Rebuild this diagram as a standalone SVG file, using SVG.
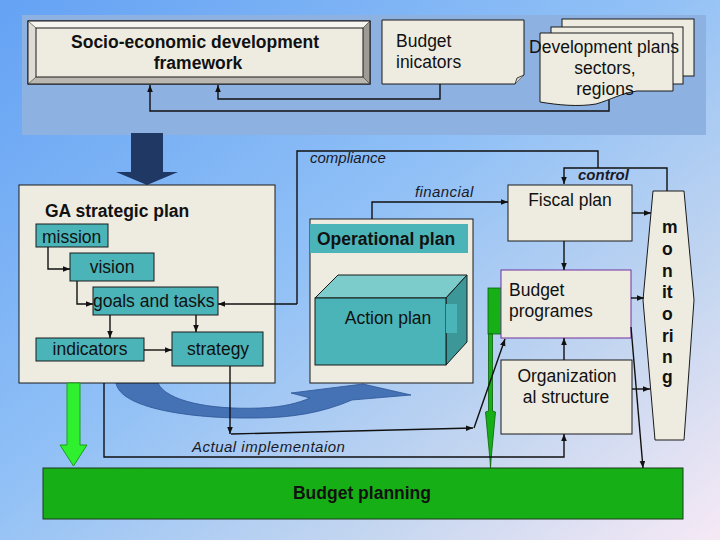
<svg xmlns="http://www.w3.org/2000/svg" width="720" height="540" viewBox="0 0 720 540">
<defs>
<linearGradient id="bg" x1="0" y1="0" x2="1" y2="1">
<stop offset="0" stop-color="#64a2f4"/>
<stop offset="0.45" stop-color="#90c0f6"/>
<stop offset="0.75" stop-color="#c4d6f0"/>
<stop offset="1" stop-color="#f6e9f5"/>
</linearGradient>
<marker id="a" viewBox="0 0 10 10" refX="10" refY="5" markerWidth="7" markerHeight="7" markerUnits="userSpaceOnUse" orient="auto">
<path d="M0,1 L10,5 L0,9 Z" fill="#111"/>
</marker>
<style>
.n{fill:#eeece1;stroke:#1a1a1a;stroke-width:1}
.t{fill:#4bb4b8;stroke:#1a1a1a;stroke-width:1}
.c{fill:none;stroke:#111;stroke-width:1.4}
.tx{font-family:"Liberation Sans",Arial,sans-serif;font-size:17.5px;fill:#111}
.b{font-weight:bold}
.i{font-style:italic;font-size:15px;fill:#1a1a2a}
.m{text-anchor:middle}
</style>
</defs>
<rect width="720" height="540" fill="url(#bg)"/>
<rect x="22" y="15" width="684" height="120" fill="#8db1e0"/>

<g id="socio">
<rect x="28" y="21" width="342" height="63" fill="#eeece1" stroke="#1a1a1a"/>
<polygon points="28,21 370,21 363,28 36,28" fill="#f7f5ef"/>
<polygon points="28,21 36,28 36,77 28,84" fill="#dedcd4"/>
<polygon points="28,84 36,77 363,77 370,84" fill="#b9b7af"/>
<polygon points="370,21 370,84 363,77 363,28" fill="#9d9b94"/>
<rect x="28" y="21" width="342" height="63" fill="none" stroke="#1a1a1a"/>
<rect x="36" y="28" width="327" height="49" class="n"/>
<line x1="28" y1="21" x2="36" y2="28" stroke="#333" stroke-width="0.6"/>
<line x1="28" y1="84" x2="36" y2="77" stroke="#333" stroke-width="0.6"/>
<line x1="370" y1="21" x2="363" y2="28" stroke="#333" stroke-width="0.6"/>
<line x1="370" y1="84" x2="363" y2="77" stroke="#333" stroke-width="0.6"/>
<text class="tx b m" x="195" y="48" font-size="18">Socio-economic development</text>
<text class="tx b m" x="198" y="69" font-size="18">framework</text>
</g>

<g id="budget-indicators">
<path d="M382,20 H524 V75 L515,84 H382 Z" class="n"/>
<path d="M515,84 L517,78 L524,75" fill="#d6d4cc" stroke="#1a1a1a" stroke-width="0.8"/>
<text class="tx" x="396" y="47">Budget</text>
<text class="tx" x="396" y="68">inicators</text>
</g>

<g id="dev-plans">
<rect x="562" y="19" width="132" height="57" class="n"/>
<rect x="551" y="27" width="132" height="57" class="n"/>
<path d="M540,33 H673 V91 L637,91 C622,93 610,100 596,104 C578,107 558,105 540,102 Z" class="n"/>
<text class="tx m" x="604" y="53">Development plans</text>
<text class="tx m" x="605" y="74">sectors,</text>
<text class="tx m" x="605" y="95">regions</text>
</g>

<g id="big-arrow">
<polygon points="131,133 163,133 163,172 178,172 147,185 116,172 131,172" fill="#1f3864"/>
</g>

<g id="curved-arrow">
<path d="M158,383 C166,401 210,410 260,408 C284,407 298,403 310,398 L291,393 L363,384 L411,395 L352,400 C322,413 290,418 255,418 C190,419 120,408 116,383 Z" fill="#4472b4" stroke="#2f5597" stroke-width="0.8"/>
</g>

<g id="ga-plan">
<rect x="19" y="185" width="256" height="198" class="n"/>
<text class="tx b" x="45" y="217">GA strategic plan</text>
</g>
<g id="mission"><rect x="36" y="224" width="72" height="23" class="t"/><text class="tx" x="42" y="243">mission</text></g>
<g id="vision"><rect x="70" y="253" width="84" height="28" class="t"/><text class="tx m" x="112" y="273">vision</text></g>
<g id="goals"><rect x="93" y="287" width="125" height="28" class="t"/><text class="tx" x="93" y="307">goals and tasks</text></g>
<g id="indicators"><rect x="36" y="338" width="108" height="23" class="t"/><text class="tx m" x="90" y="355">indicators</text></g>
<g id="strategy"><rect x="172" y="332" width="91" height="34" class="t"/><text class="tx m" x="218" y="355">strategy</text></g>

<g id="operational-plan">
<rect x="310" y="219" width="163" height="164" class="n"/>
<rect x="310" y="224" width="158" height="29" fill="#4bb4b8"/>
<text class="tx b" x="317" y="245">Operational plan</text>
</g>
<g id="action-plan">
<polygon points="315,298 338,275 467,275 446,298" fill="#7ccccc" stroke="#1a1a1a"/>
<polygon points="446,298 467,275 467,342 446,365" fill="#3c9898" stroke="#1a1a1a"/>
<rect x="315" y="298" width="131" height="67" fill="#4bb4b8" stroke="#1a1a1a"/>
<rect x="446" y="304" width="11" height="29" fill="#4bb4b8"/>
<text class="tx m" x="388" y="324">Action plan</text>
</g>

<g id="fiscal-plan">
<rect x="508" y="185" width="124" height="56" class="n"/>
<text class="tx m" x="570" y="206">Fiscal plan</text>
</g>

<g id="green-strip">
<rect x="488" y="288" width="14" height="46" fill="#16b016" stroke="#0a600a" stroke-width="0.8"/>
<path d="M488.5,334 H492.5 V411 L495.5,412 L491,460 L490.5,468 L490,460 L485.5,412 L488.5,411 Z" fill="#16b016" stroke="#0a600a" stroke-width="0.8"/>
</g>

<g id="budget-programes">
<rect x="501" y="270" width="130" height="68" fill="#eeece1" stroke="#7030a0" stroke-width="1"/>
<text class="tx" x="509" y="296">Budget</text>
<text class="tx" x="509" y="317">programes</text>
</g>

<g id="org-structure">
<rect x="501" y="360" width="131" height="74" class="n"/>
<text class="tx m" x="567" y="382">Organization</text>
<text class="tx m" x="566" y="403">al structure</text>
</g>

<g id="monitoring">
<polygon points="653,191 684,191 694,300 684,440 655,440 643,300" class="n"/>
<text class="tx b" x="662" y="233">m</text>
<text class="tx b" x="662" y="255">o</text>
<text class="tx b" x="662" y="277">n</text>
<text class="tx b" x="662" y="298">it</text>
<text class="tx b" x="662" y="320">o</text>
<text class="tx b" x="662" y="342">ri</text>
<text class="tx b" x="662" y="363">n</text>
<text class="tx b" x="662" y="383">g</text>
</g>

<g id="green-arrow">
<polygon points="67,383 80,383 80,445 87,445 73.5,466 60,445 67,445" fill="#2ef02e" stroke="#1a9e1a" stroke-width="1"/>
</g>

<g id="budget-planning">
<rect x="43" y="468" width="640" height="51" fill="#16b016" stroke="#1a3a1a" stroke-width="1"/>
<text class="tx b m" x="362" y="499" fill="#142014">Budget planning</text>
</g>

<g id="connectors">
<path class="c" d="M440,84 V99 H218 V85" marker-end="url(#a)"/>
<path class="c" d="M609,100 V111 H150 V85" marker-end="url(#a)"/>
<path class="c" d="M48,247 V269 H70" stroke-width="2" marker-end="url(#a)"/>
<path class="c" d="M77,281 V304 H93" stroke-width="1.6" marker-end="url(#a)"/>
<path class="c" d="M110,315 V338" marker-end="url(#a)"/>
<path class="c" d="M196,315 V332" marker-end="url(#a)"/>
<path class="c" d="M144,350 H172" marker-end="url(#a)"/>
<path class="c" d="M598,168 V151 H297 V304"/>
<path class="c" d="M297,304 H218" stroke-width="2.2" marker-end="url(#a)"/>
<path class="c" d="M667,191 V168 H564 V184" marker-end="url(#a)"/>
<path class="c" d="M372,219 V202 H508" marker-end="url(#a)"/>
<path class="c" d="M564,241 V270" stroke-width="1.8" marker-end="url(#a)"/>
<path class="c" d="M564,360 V338" stroke-width="1.8" marker-end="url(#a)"/>
<path class="c" d="M104,383 V457 H564 V434" marker-end="url(#a)"/>
<path class="c" d="M230,366 V434" marker-end="url(#a)"/>
<path class="c" d="M231,434 L473,428" stroke-width="1.8" marker-end="url(#a)"/>
<path class="c" d="M474,428 L505,339" marker-end="url(#a)"/>
<path class="c" d="M632,213 H651" stroke-width="1.8" marker-end="url(#a)"/>
<path class="c" d="M631,298 H644" marker-end="url(#a)"/>
<path class="c" d="M632,389 H650" stroke-width="1.8" marker-end="url(#a)"/>
<path class="c" d="M631,327 L643,468" marker-end="url(#a)"/>
</g>

<g id="labels">
<text class="tx i" x="310" y="163">compliance</text>
<text class="tx i" x="415" y="197" letter-spacing="0.4">financial</text>
<text class="tx i b" x="578" y="180" font-size="15">control</text>
<text class="tx i" x="192" y="452" letter-spacing="0.5">Actual implementaion</text>
</g>
</svg>
